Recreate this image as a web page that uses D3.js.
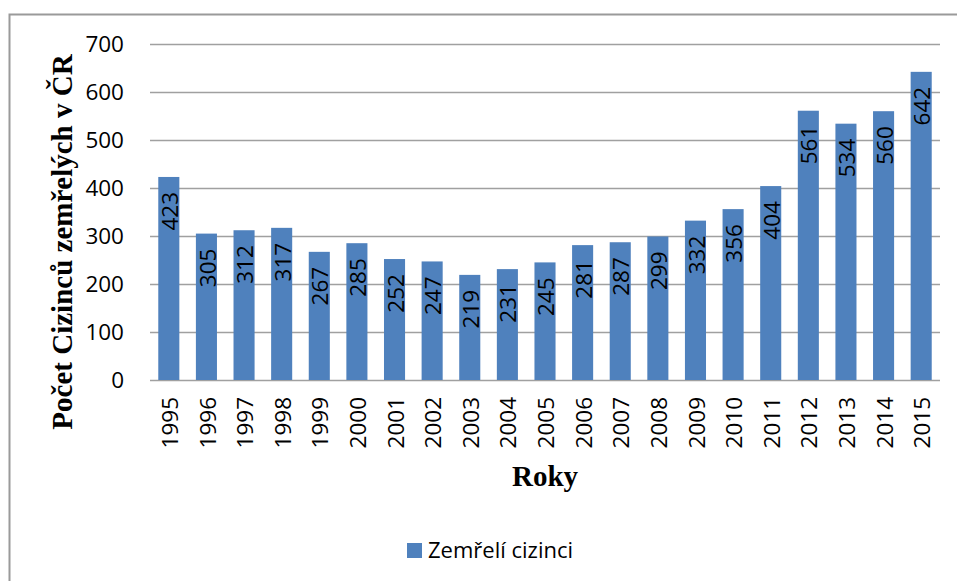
<!DOCTYPE html>
<html>
<head>
<meta charset="utf-8">
<script src="https://cdn.jsdelivr.net/npm/d3@7"></script>
<style>
  body { margin: 0; background: #fff; }
  text { font-family: "Open Sans", sans-serif; }
</style>
</head>
<body>
<div id="chart"></div>
<script>
// data
var years = ["1995","1996","1997","1998","1999","2000","2001","2002","2003","2004","2005",
             "2006","2007","2008","2009","2010","2011","2012","2013","2014","2015"];
var deaths = [423,305,312,317,267,285,252,247,219,231,245,281,287,299,332,356,404,561,534,560,642];
var yTicks = [0,100,200,300,400,500,600,700];
var seriesName = "Zemřelí cizinci";
var yTitle = "Počet  Cizinců  zemřelých v ČR";
var xTitle = "Roky";

var W = 957, H = 581;
var plot = {left: 150, right: 940, top: 44, bottom: 380};
var barColor = "#4f81bd";

var svg = d3.select("#chart").append("svg")
    .attr("width", W).attr("height", H);

// outer frame
svg.append("rect")
    .attr("x", 9.5).attr("y", 14.5)
    .attr("width", 970).attr("height", 600)
    .style("fill", "none").style("stroke", "#9a9a9a").style("stroke-width", 2);

var x = d3.scaleBand().domain(years).range([plot.left, plot.right]).paddingInner(0.44).paddingOuter(0.22);
var y = d3.scaleLinear().domain([0, 700]).range([plot.bottom, plot.top]);

// gridlines
svg.append("g").selectAll("line")
    .data(yTicks).enter().append("line")
    .attr("x1", plot.left).attr("x2", plot.right)
    .attr("y1", function(d){ return Math.round(y(d)) + 0.5; })
    .attr("y2", function(d){ return Math.round(y(d)) + 0.5; })
    .style("stroke", "#a0a0a0").style("stroke-width", 1.5);

// y tick labels
svg.append("g").selectAll("text")
    .data(yTicks).enter().append("text")
    .attr("x", 124).attr("y", function(d){ return y(d); })
    .attr("dy", "0.36em")
    .attr("text-anchor", "end")
    .style("font-size", "22.5px").style("fill", "#000")
    .text(function(d){ return d; });

// bars
svg.append("g").selectAll("rect")
    .data(deaths).enter().append("rect")
    .attr("x", function(d, i){ return x(years[i]); })
    .attr("y", function(d){ return y(d); })
    .attr("width", x.bandwidth())
    .attr("height", function(d){ return y(0) - y(d); })
    .style("fill", barColor);

// value labels, rotated inside the bar top
svg.append("g").selectAll("text")
    .data(deaths).enter().append("text")
    .attr("transform", function(d, i){
      var cx = x(years[i]) + x.bandwidth()/2 + 1;
      return "translate(" + cx + "," + (y(d) + 15) + ") rotate(-90)";
    })
    .attr("dy", "0.36em")
    .attr("text-anchor", "end")
    .style("font-size", "22.5px").style("fill", "#000")
    .text(function(d){ return d; });

// x tick labels
svg.append("g").selectAll("text")
    .data(years).enter().append("text")
    .attr("transform", function(d){
      var cx = x(d) + x.bandwidth()/2 + 1;
      return "translate(" + cx + ",397) rotate(-90)";
    })
    .attr("dy", "0.36em")
    .attr("text-anchor", "end")
    .style("font-size", "22.5px").style("fill", "#000")
    .text(function(d){ return d; });

// axis titles
svg.append("text")
    .attr("transform", "translate(72,242) rotate(-90)")
    .attr("text-anchor", "middle")
    .style("font-family", "'Liberation Serif', serif")
    .style("font-weight", "bold").style("font-size", "29px")
    .text(yTitle);

svg.append("text")
    .attr("x", 545).attr("y", 486)
    .attr("text-anchor", "middle")
    .style("font-family", "'Liberation Serif', serif")
    .style("font-weight", "bold").style("font-size", "29px")
    .text(xTitle);

// legend
var leg = svg.append("g").attr("transform", "translate(407,543)");
leg.append("rect").attr("width", 15).attr("height", 15).style("fill", barColor);
leg.append("text").attr("x", 21).attr("y", 15)
    .style("font-size", "22px").style("fill", "#000")
    .text(seriesName);
</script>
</body>
</html>
